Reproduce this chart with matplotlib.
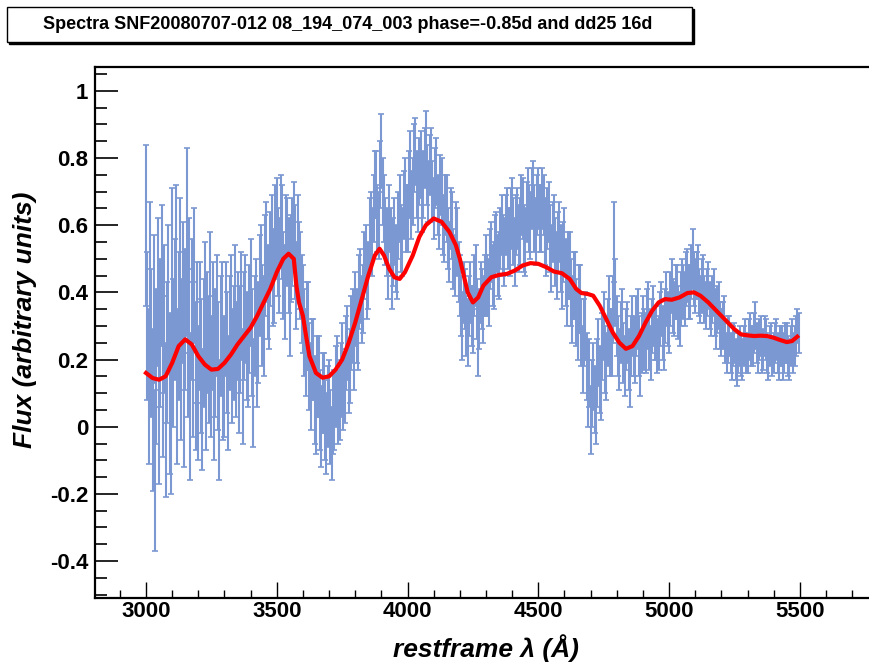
import matplotlib
matplotlib.use("Agg")
import matplotlib.pyplot as plt
from matplotlib.patches import Rectangle
from matplotlib.ticker import MultipleLocator

# spectrum points (restframe wavelength, 5 A steps), one row = 100 A
wave = list(range(3000, 5500, 5))
flux = [
    0.60, 0.30, 0.12, 0.42, 0.25, 0.05, 0.35, -0.13, 0.18, 0.40, 0.08, 0.28, 0.45, 0.15, 0.32, 0.02, 0.22, 0.38, 0.10, 0.00,
    0.45, 0.22, 0.35, 0.50, 0.12, 0.30, 0.48, 0.20, 0.40, 0.10, 0.32, 0.55, 0.25, 0.42, 0.06, 0.35, 0.20, 0.45, 0.15, 0.28,
    0.10, 0.30, 0.18, 0.05, 0.25, 0.35, 0.12, 0.28, 0.20, 0.38, 0.15, 0.30, 0.08, 0.22, 0.33, 0.18, 0.02, 0.27, 0.30, 0.14,
    0.15, 0.32, 0.22, 0.10, 0.28, 0.35, 0.18, 0.25, 0.38, 0.20, 0.30, 0.15, 0.26, 0.36, 0.12, 0.30, 0.35, 0.24, 0.22, 0.32,
    0.40, 0.25, 0.10, 0.30, 0.35, 0.22, 0.28, 0.42, 0.45, 0.33, 0.30, 0.48, 0.52, 0.40, 0.38, 0.50, 0.55, 0.44, 0.45, 0.58,
    0.60, 0.52, 0.48, 0.62, 0.58, 0.45, 0.40, 0.56, 0.55, 0.48, 0.35, 0.50, 0.55, 0.60, 0.52, 0.42, 0.55, 0.48, 0.45, 0.38,
    0.35, 0.28, 0.22, 0.30, 0.30, 0.18, 0.12, 0.20, 0.20, 0.08, 0.05, 0.15, 0.15, 0.05, 0.00, 0.10, 0.10, 0.02, -0.02, 0.06,
    0.08, 0.00, -0.05, 0.04, 0.05, 0.12, 0.15, 0.06, 0.08, 0.14, 0.20, 0.10, 0.12, 0.22, 0.25, 0.15, 0.18, 0.28, 0.30, 0.22,
    0.35, 0.30, 0.28, 0.40, 0.42, 0.35, 0.38, 0.48, 0.50, 0.42, 0.45, 0.58, 0.60, 0.55, 0.65, 0.72, 0.72, 0.62, 0.60, 0.75,
    0.82, 0.70, 0.65, 0.58, 0.55, 0.48, 0.62, 0.55, 0.45, 0.52, 0.58, 0.50, 0.48, 0.60, 0.65, 0.56, 0.55, 0.66, 0.70, 0.62,
    0.62, 0.72, 0.78, 0.66, 0.70, 0.80, 0.82, 0.72, 0.68, 0.76, 0.78, 0.68, 0.72, 0.80, 0.85, 0.75, 0.70, 0.78, 0.80, 0.70,
    0.65, 0.74, 0.76, 0.66, 0.62, 0.72, 0.70, 0.60, 0.58, 0.66, 0.65, 0.56, 0.52, 0.62, 0.60, 0.50, 0.48, 0.58, 0.55, 0.46,
    0.42, 0.36, 0.30, 0.40, 0.38, 0.30, 0.28, 0.36, 0.40, 0.33, 0.32, 0.42, 0.45, 0.35, 0.25, 0.32, 0.40, 0.38, 0.35, 0.42,
    0.48, 0.42, 0.40, 0.50, 0.52, 0.45, 0.45, 0.54, 0.55, 0.48, 0.48, 0.56, 0.60, 0.54, 0.52, 0.60, 0.62, 0.56, 0.55, 0.62,
    0.65, 0.58, 0.52, 0.60, 0.62, 0.56, 0.58, 0.66, 0.65, 0.56, 0.55, 0.64, 0.68, 0.62, 0.60, 0.68, 0.70, 0.62, 0.58, 0.66,
    0.68, 0.62, 0.62, 0.68, 0.66, 0.58, 0.55, 0.62, 0.64, 0.56, 0.50, 0.58, 0.60, 0.52, 0.48, 0.55, 0.58, 0.50, 0.45, 0.52,
    0.55, 0.46, 0.40, 0.48, 0.48, 0.40, 0.35, 0.42, 0.42, 0.34, 0.30, 0.38, 0.38, 0.28, 0.20, 0.28, 0.30, 0.18, 0.10, 0.16,
    0.02, 0.10, 0.15, 0.08, 0.05, 0.16, 0.22, 0.14, 0.12, 0.24, 0.30, 0.20, 0.18, 0.28, 0.35, 0.25, 0.25, 0.35, 0.55, 0.40,
    0.30, 0.24, 0.20, 0.28, 0.32, 0.22, 0.18, 0.26, 0.28, 0.20, 0.15, 0.24, 0.30, 0.24, 0.22, 0.30, 0.32, 0.24, 0.18, 0.25,
    0.30, 0.26, 0.25, 0.32, 0.35, 0.26, 0.22, 0.30, 0.33, 0.28, 0.28, 0.24, 0.25, 0.32, 0.35, 0.28, 0.25, 0.33, 0.38, 0.32,
    0.30, 0.38, 0.42, 0.36, 0.35, 0.40, 0.40, 0.34, 0.32, 0.38, 0.42, 0.40, 0.38, 0.44, 0.45, 0.40, 0.40, 0.46, 0.50, 0.44,
    0.42, 0.45, 0.46, 0.40, 0.38, 0.42, 0.44, 0.38, 0.36, 0.40, 0.42, 0.36, 0.34, 0.38, 0.40, 0.34, 0.30, 0.35, 0.36, 0.30,
    0.28, 0.30, 0.32, 0.25, 0.22, 0.26, 0.27, 0.22, 0.20, 0.24, 0.25, 0.20, 0.18, 0.22, 0.24, 0.21, 0.20, 0.24, 0.26, 0.22,
    0.22, 0.26, 0.28, 0.24, 0.24, 0.28, 0.30, 0.25, 0.22, 0.26, 0.27, 0.22, 0.23, 0.27, 0.26, 0.22, 0.20, 0.24, 0.25, 0.21,
    0.22, 0.25, 0.26, 0.22, 0.20, 0.24, 0.24, 0.20, 0.22, 0.25, 0.25, 0.21, 0.20, 0.24, 0.26, 0.22, 0.24, 0.27, 0.30, 0.28,
]
flux_err = [
    0.24, 0.22, 0.23, 0.25, 0.22, 0.24, 0.22, 0.24, 0.23, 0.22, 0.25, 0.22, 0.21, 0.24, 0.22, 0.23, 0.21, 0.22, 0.24, 0.20,
    0.26, 0.22, 0.21, 0.22, 0.23, 0.22, 0.20, 0.24, 0.21, 0.22, 0.21, 0.28, 0.22, 0.20, 0.22, 0.21, 0.23, 0.20, 0.22, 0.21,
    0.20, 0.19, 0.20, 0.18, 0.19, 0.20, 0.19, 0.18, 0.19, 0.20, 0.18, 0.19, 0.18, 0.19, 0.18, 0.19, 0.18, 0.18, 0.19, 0.18,
    0.18, 0.17, 0.18, 0.17, 0.17, 0.16, 0.17, 0.17, 0.16, 0.17, 0.16, 0.17, 0.16, 0.16, 0.17, 0.16, 0.16, 0.16, 0.16, 0.16,
    0.16, 0.16, 0.16, 0.15, 0.15, 0.16, 0.15, 0.15, 0.15, 0.15, 0.15, 0.15, 0.15, 0.14, 0.15, 0.14, 0.14, 0.14, 0.14, 0.14,
    0.14, 0.13, 0.14, 0.13, 0.14, 0.13, 0.14, 0.13, 0.13, 0.14, 0.14, 0.13, 0.13, 0.13, 0.14, 0.13, 0.14, 0.13, 0.13, 0.13,
    0.13, 0.13, 0.13, 0.13, 0.13, 0.13, 0.13, 0.12, 0.12, 0.13, 0.13, 0.12, 0.12, 0.12, 0.12, 0.12, 0.12, 0.12, 0.12, 0.12,
    0.12, 0.11, 0.11, 0.12, 0.12, 0.12, 0.12, 0.11, 0.12, 0.11, 0.11, 0.11, 0.11, 0.11, 0.11, 0.11, 0.11, 0.11, 0.11, 0.11,
    0.11, 0.11, 0.11, 0.11, 0.11, 0.10, 0.10, 0.10, 0.10, 0.10, 0.10, 0.10, 0.10, 0.10, 0.10, 0.10, 0.10, 0.10, 0.10, 0.10,
    0.11, 0.10, 0.10, 0.10, 0.10, 0.10, 0.10, 0.10, 0.10, 0.10, 0.10, 0.10, 0.10, 0.10, 0.10, 0.10, 0.10, 0.10, 0.10, 0.10,
    0.10, 0.10, 0.10, 0.10, 0.10, 0.10, 0.10, 0.10, 0.10, 0.10, 0.10, 0.10, 0.10, 0.09, 0.09, 0.09, 0.09, 0.09, 0.09, 0.09,
    0.09, 0.09, 0.10, 0.09, 0.09, 0.09, 0.10, 0.09, 0.09, 0.09, 0.10, 0.09, 0.09, 0.09, 0.10, 0.09, 0.09, 0.09, 0.10, 0.09,
    0.09, 0.09, 0.10, 0.09, 0.09, 0.09, 0.10, 0.09, 0.09, 0.09, 0.10, 0.09, 0.09, 0.09, 0.10, 0.09, 0.09, 0.09, 0.10, 0.09,
    0.09, 0.09, 0.10, 0.09, 0.09, 0.09, 0.10, 0.09, 0.09, 0.09, 0.10, 0.09, 0.09, 0.09, 0.10, 0.09, 0.09, 0.09, 0.10, 0.09,
    0.09, 0.10, 0.10, 0.09, 0.09, 0.10, 0.10, 0.09, 0.09, 0.10, 0.10, 0.09, 0.09, 0.10, 0.10, 0.09, 0.09, 0.10, 0.10, 0.09,
    0.09, 0.10, 0.10, 0.09, 0.09, 0.10, 0.10, 0.09, 0.09, 0.10, 0.10, 0.09, 0.09, 0.10, 0.10, 0.09, 0.09, 0.10, 0.10, 0.09,
    0.10, 0.10, 0.10, 0.10, 0.10, 0.10, 0.10, 0.10, 0.10, 0.10, 0.10, 0.10, 0.10, 0.10, 0.10, 0.10, 0.10, 0.10, 0.10, 0.10,
    0.10, 0.10, 0.10, 0.10, 0.10, 0.10, 0.10, 0.10, 0.10, 0.10, 0.10, 0.10, 0.10, 0.10, 0.10, 0.10, 0.10, 0.10, 0.12, 0.10,
    0.09, 0.09, 0.09, 0.09, 0.09, 0.09, 0.09, 0.09, 0.09, 0.09, 0.09, 0.09, 0.09, 0.09, 0.09, 0.09, 0.09, 0.09, 0.09, 0.09,
    0.09, 0.09, 0.09, 0.09, 0.08, 0.09, 0.08, 0.08, 0.09, 0.08, 0.08, 0.08, 0.08, 0.08, 0.08, 0.08, 0.08, 0.08, 0.08, 0.08,
    0.08, 0.08, 0.08, 0.08, 0.08, 0.08, 0.08, 0.08, 0.08, 0.08, 0.08, 0.08, 0.08, 0.08, 0.08, 0.08, 0.08, 0.08, 0.09, 0.08,
    0.08, 0.07, 0.08, 0.07, 0.07, 0.08, 0.07, 0.07, 0.07, 0.07, 0.07, 0.07, 0.07, 0.07, 0.07, 0.07, 0.07, 0.07, 0.07, 0.07,
    0.07, 0.07, 0.07, 0.06, 0.06, 0.07, 0.06, 0.06, 0.06, 0.06, 0.06, 0.06, 0.06, 0.06, 0.06, 0.06, 0.06, 0.06, 0.06, 0.06,
    0.06, 0.06, 0.06, 0.06, 0.06, 0.06, 0.07, 0.06, 0.06, 0.06, 0.06, 0.06, 0.06, 0.06, 0.06, 0.06, 0.06, 0.06, 0.06, 0.06,
    0.06, 0.06, 0.06, 0.06, 0.06, 0.06, 0.06, 0.06, 0.06, 0.06, 0.06, 0.06, 0.06, 0.06, 0.06, 0.06, 0.06, 0.06, 0.05, 0.06,
]

# smooth model curve (red)
model_wave = [3000, 3025, 3050, 3075, 3100, 3125, 3150, 3175, 3200, 3225,
              3250, 3275, 3300, 3325, 3350, 3375, 3400, 3425, 3450, 3475,
              3500, 3525, 3545, 3565, 3575, 3585, 3600, 3610, 3625, 3650,
              3675, 3700, 3725, 3750, 3775, 3800, 3825, 3850, 3875, 3893,
              3910, 3930, 3950, 3970, 3990, 4020, 4045, 4070, 4100, 4130,
              4160, 4185, 4200, 4215, 4230, 4250, 4270, 4290, 4320, 4350,
              4380, 4410, 4440, 4470, 4500, 4530, 4560, 4590, 4620, 4645,
              4665, 4690, 4710, 4735, 4760, 4785, 4810, 4835, 4860, 4885,
              4910, 4935, 4960, 4985, 5010, 5040, 5070, 5095, 5120, 5150,
              5175, 5200, 5225, 5250, 5275, 5300, 5325, 5350, 5375, 5400,
              5425, 5450, 5470, 5490]
model_flux = [0.160, 0.145, 0.140, 0.150, 0.190, 0.240, 0.260, 0.245, 0.210, 0.185,
              0.170, 0.172, 0.190, 0.215, 0.245, 0.270, 0.295, 0.330, 0.370, 0.410,
              0.460, 0.500, 0.515, 0.500, 0.420, 0.370, 0.330, 0.280, 0.210, 0.160,
              0.146, 0.150, 0.170, 0.200, 0.250, 0.310, 0.380, 0.450, 0.510, 0.530,
              0.510, 0.470, 0.445, 0.440, 0.460, 0.510, 0.565, 0.600, 0.620, 0.610,
              0.580, 0.540, 0.500, 0.450, 0.400, 0.370, 0.385, 0.420, 0.445, 0.452,
              0.455, 0.465, 0.480, 0.487, 0.485, 0.475, 0.462, 0.457, 0.440, 0.410,
              0.398, 0.395, 0.390, 0.360, 0.320, 0.280, 0.250, 0.232, 0.240, 0.270,
              0.310, 0.345, 0.370, 0.380, 0.378, 0.385, 0.398, 0.400, 0.390, 0.370,
              0.350, 0.330, 0.310, 0.290, 0.275, 0.272, 0.270, 0.271, 0.270, 0.265,
              0.258, 0.252, 0.255, 0.268]

title = "Spectra SNF20080707-012 08_194_074_003 phase=-0.85d and dd25 16d"

plt.rcParams['font.family'] = ['Liberation Sans', 'DejaVu Sans']

W, H = 869, 665
fig = plt.figure(figsize=(W / 100, H / 100), dpi=100)

# frame: left edge at px 95, top at px 67, bottom at px 598, right edge past the picture
ax = fig.add_axes([95 / W, (H - 598) / H, 782 / W, (598 - 67) / H])
ax.set_xlim(2805, 5795)
ax.set_ylim(-0.51, 1.071)

ax.errorbar(wave, flux, yerr=flux_err, fmt='none', ecolor='#7b98d2',
            elinewidth=1.5, capsize=2.5, capthick=1.2, zorder=2)
ax.plot(model_wave, model_flux, color='#ff0000', lw=3, zorder=3)

ax.xaxis.set_major_locator(MultipleLocator(500))
ax.xaxis.set_minor_locator(MultipleLocator(100))
ax.yaxis.set_major_locator(MultipleLocator(0.2))
ax.yaxis.set_minor_locator(MultipleLocator(0.05))
ax.tick_params(axis='x', which='major', direction='in', length=11.5, width=1, pad=2,
               labelsize=16, top=False)
ax.tick_params(axis='x', which='minor', direction='in', length=5.8, width=1, top=False)
ax.tick_params(axis='y', which='major', direction='in', length=16.5, width=1.2, pad=5,
               labelsize=16, right=False)
ax.tick_params(axis='y', which='minor', direction='in', length=8.3, width=1.2, right=False)
ax.set_yticks([-0.4, -0.2, 0, 0.2, 0.4, 0.6, 0.8, 1])
ax.set_yticklabels(['-0.4', '-0.2', '0', '0.2', '0.4', '0.6', '0.8', '1'], fontweight='bold')
ax.set_xticks([3000, 3500, 4000, 4500, 5000, 5500])
ax.set_xticklabels(['3000', '3500', '4000', '4500', '5000', '5500'], fontweight='bold')
for s in ['left', 'bottom', 'top', 'right']:
    ax.spines[s].set_linewidth(1.6)

fig.text(486 / W, 1 - 648 / H, "restframe λ (Å)", fontsize=19, fontweight='bold',
         fontstyle='italic', ha='center', va='center')
fig.text(25 / W, 1 - 320 / H, "Flux (arbitrary units)", fontsize=19, fontweight='bold',
         fontstyle='italic', ha='center', va='center', rotation=90)

# title box with shadow
fig.patches.append(Rectangle((9 / W, 1 - 44 / H), 685 / W, 35 / H, transform=fig.transFigure,
                             facecolor='black', edgecolor='black', lw=1))
fig.patches.append(Rectangle((7 / W, 1 - 42 / H), 685 / W, 35 / H, transform=fig.transFigure,
                             facecolor='white', edgecolor='black', lw=1))
fig.text(348 / W, 1 - 24.5 / H, title, fontsize=13, fontweight='bold', ha='center', va='center')

fig.savefig("out.png", dpi=100)
